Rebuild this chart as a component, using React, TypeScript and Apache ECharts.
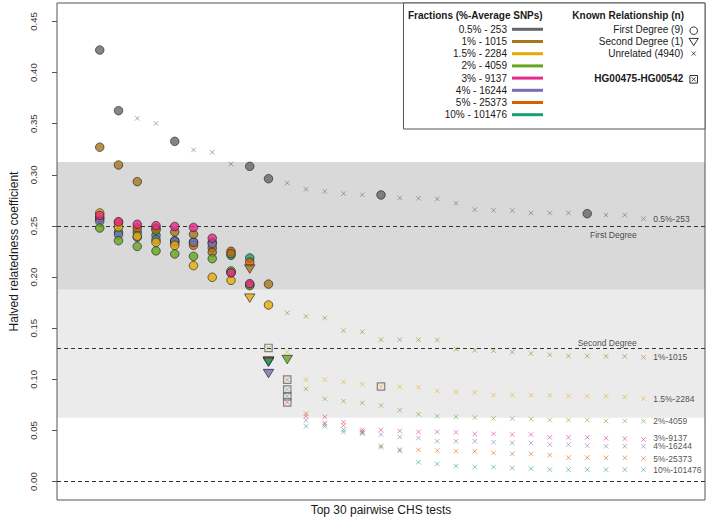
import React, { useEffect, useRef } from "react";
import * as echarts from "echarts";

const FONT = "'Liberation Sans', Arial, Helvetica, sans-serif";

// ---------- data ----------
const ranks = [1, 2, 3, 4, 5, 6, 7, 8, 9, 10, 11, 12, 13, 14, 15, 16, 17, 18, 19, 20, 21, 22, 23, 24, 25, 26, 27, 28, 29, 30];

const fractionNames = ["0.5% - 253", "1% - 1015", "1.5% - 2284", "2% - 4059", "3% - 9137", "4% - 16244", "5% - 25373", "10% - 101476"];
const fractionTags = ["0.5%-253", "1%-1015", "1.5%-2284", "2%-4059", "3%-9137", "4%-16244", "5%-25373", "10%-101476"];
const fractionColors = ["#666666", "#a6761d", "#e6ab02", "#66a61e", "#e7298a", "#7570b3", "#d95f02", "#1b9e77"];

const yTicks = [0, 0.05, 0.1, 0.15, 0.2, 0.25, 0.3, 0.35, 0.4, 0.45];
const degreeLines = [0.25, 0.125, 0];
const degreeNames = ["First Degree", "Second Degree"];
const degreeLevels = [0.25, 0.125];
const firstDegreeBand = [0.1875, 0.3125];
const secondDegreeBand = [0.0625, 0.1875];
const relationshipNames = ["First Degree (9)", "Second Degree (1)", "Unrelated (4940)"];
const highlightedPair = "HG00475-HG00542";

// relation codes per rank: F first degree, S second degree, U unrelated, H = HG00475-HG00542
const frac05 = [0.422, 0.3627, 0.3552, 0.3503, 0.3327, 0.3243, 0.322, 0.3106, 0.3083, 0.2962, 0.292, 0.2858, 0.2838, 0.2817, 0.2805, 0.2803, 0.2774, 0.277, 0.2764, 0.2721, 0.266, 0.2653, 0.265, 0.2627, 0.2627, 0.2627, 0.262, 0.2607, 0.2607, 0.2571];
const rel05 = "FFUUFUUUFFUUUUUFUUUUUUUUUUFUUU";

const frac1 = [0.327, 0.3096, 0.2933, 0.246, 0.2441, 0.2418, 0.2242, 0.223, 0.2078, 0.1931, 0.1649, 0.1615, 0.16, 0.1476, 0.1465, 0.1388, 0.1388, 0.1388, 0.1385, 0.1295, 0.1284, 0.128, 0.1267, 0.1253, 0.124, 0.1229, 0.1229, 0.1225, 0.1225, 0.1215];
const rel1 = "FFFFFFFFSFUUUUUUUUUUUUUUUUUUUU";

const frac15 = [0.2627, 0.249, 0.24, 0.234, 0.231, 0.2112, 0.1998, 0.1968, 0.1794, 0.1727, 0.1268, 0.0997, 0.0997, 0.0975, 0.0953, 0.093, 0.0928, 0.0922, 0.0888, 0.0877, 0.0873, 0.0844, 0.0844, 0.0844, 0.0843, 0.0834, 0.0834, 0.0834, 0.0828, 0.0811];
const rel15 = "FFFFFFFFSFUUUUUHUUUUUUUUUUUUUU";

const frac2 = [0.248, 0.2356, 0.23, 0.2256, 0.2226, 0.2203, 0.218, 0.206, 0.1916, 0.1307, 0.1193, 0.0906, 0.0809, 0.0786, 0.0769, 0.0745, 0.0698, 0.0658, 0.064, 0.0633, 0.0626, 0.0618, 0.0616, 0.0613, 0.0602, 0.0601, 0.0601, 0.0592, 0.0592, 0.059];
const rel2 = "FFFFFFFFFHSUUUUUUUUUUUUUUUUUUU";

const frac3 = [0.2604, 0.2542, 0.2516, 0.2503, 0.2495, 0.2485, 0.238, 0.204, 0.1936, 0.1172, 0.0775, 0.0639, 0.0633, 0.0582, 0.0508, 0.0506, 0.0495, 0.0486, 0.0486, 0.0482, 0.0466, 0.0466, 0.046, 0.046, 0.0433, 0.0433, 0.0433, 0.0424, 0.042, 0.0411];
const rel3 = "FFFFFFFFFSHUUUUUUUUUUUUUUUUUUU";

const frac4 = [0.2545, 0.2415, 0.239, 0.2366, 0.2352, 0.234, 0.2325, 0.2045, 0.1925, 0.1056, 0.09, 0.06, 0.056, 0.0508, 0.048, 0.046, 0.0437, 0.0427, 0.0395, 0.0395, 0.0394, 0.0385, 0.0378, 0.0378, 0.0362, 0.0362, 0.0352, 0.0345, 0.0345, 0.0345];
const rel4 = "FFFFFFFFFSHUUUUUUUUUUUUUUUUUUU";

const frac5 = [0.258, 0.2535, 0.248, 0.2478, 0.2334, 0.231, 0.2285, 0.2252, 0.2145, 0.118, 0.0997, 0.0665, 0.0574, 0.055, 0.049, 0.0335, 0.0313, 0.031, 0.0304, 0.0297, 0.0297, 0.028, 0.0271, 0.0271, 0.0258, 0.0235, 0.0235, 0.0232, 0.0232, 0.0225];
const rel5 = "FFFFFFFFFSHUUUUUUUUUUUUUUUUUUU";

const frac10 = [0.257, 0.244, 0.2438, 0.2408, 0.2356, 0.2343, 0.234, 0.2213, 0.2187, 0.1167, 0.0834, 0.0541, 0.054, 0.0486, 0.047, 0.035, 0.03, 0.0189, 0.0173, 0.0153, 0.0143, 0.0143, 0.0134, 0.0127, 0.0117, 0.0117, 0.0117, 0.0117, 0.0117, 0.0117];
const rel10 = "FFFFFFFFFSHUUUUUUUUUUUUUUUUUUU";

const fractionValues = [frac05, frac1, frac15, frac2, frac3, frac4, frac5, frac10];
const fractionRelations = [rel05, rel1, rel15, rel2, rel3, rel4, rel5, rel10];

// ---------- helpers ----------
const circleOrder = [7, 6, 5, 0, 1, 2, 3, 4];
const tagNudge = [0, 0, 0, 0, -2, 0, 0, 0];

function rgba(hex: string, a: number) {
  const n = parseInt(hex.slice(1), 16);
  return `rgba(${(n >> 16) & 255},${(n >> 8) & 255},${n & 255},${a})`;
}

function points(k: number, codes: string) {
  const vals = fractionValues[k];
  const rel = fractionRelations[k];
  const out: any[] = [];
  ranks.forEach((r, i) => {
    if (codes.indexOf(rel[i]) >= 0) out.push([r, vals[i]]);
  });
  return out;
}

const X_PATH = "path://M0,0L10,10M10,0L0,10";

function buildOption() {
  const series: any[] = [];

  series.push({
    type: "scatter",
    name: "bands",
    data: [],
    silent: true,
    z: 1,
    markArea: {
      silent: true,
      z: 1,
      data: [
        [{ yAxis: firstDegreeBand[0], itemStyle: { color: "#d9d9d9" } }, { yAxis: firstDegreeBand[1] }],
        [{ yAxis: secondDegreeBand[0], itemStyle: { color: "#ebebeb" } }, { yAxis: secondDegreeBand[1] }],
      ],
    },
    markLine: {
      silent: true,
      z: 1.5,
      symbol: ["none", "none"],
      label: { show: false },
      lineStyle: { color: "#333", type: [4, 3], width: 1 },
      data: degreeLines.map((v) => ({ yAxis: v })),
    },
  });

  // unrelated crosses (and the crosses inside the highlighted pair's squares)
  fractionNames.forEach((name, k) => {
    const data = points(k, "UH").map((p) => {
      if (p[0] === ranks[ranks.length - 1]) {
        return {
          value: p,
          label: {
            show: true,
            position: "right",
            distance: 7,
            offset: [0, tagNudge[k]],
            formatter: fractionTags[k],
            fontSize: 8.5,
            fontFamily: FONT,
            color: "#1a1a1a",
          },
        };
      }
      return p;
    });
    series.push({
      type: "scatter",
      name,
      z: 2,
      silent: true,
      symbol: X_PATH,
      symbolSize: 4.5,
      itemStyle: { color: "rgba(0,0,0,0)", borderColor: rgba(fractionColors[k], 0.7), borderWidth: 1 },
      data,
    });
  });

  // first degree circles
  circleOrder.forEach((k) => {
    series.push({
      type: "scatter",
      name: fractionNames[k],
      z: 3,
      silent: true,
      symbol: "circle",
      symbolSize: 8.5,
      itemStyle: { color: fractionColors[k], borderColor: "#1a1a1a", borderWidth: 0.8 },
      data: points(k, "F"),
    });
  });

  // second degree triangles
  fractionNames.forEach((name, k) => {
    series.push({
      type: "scatter",
      name,
      z: 3,
      silent: true,
      symbol: "triangle",
      symbolRotate: 180,
      symbolSize: [10.5, 8.5],
      itemStyle: { color: fractionColors[k], borderColor: "#1a1a1a", borderWidth: 0.8 },
      data: points(k, "S"),
    });
  });

  // highlighted pair squares
  fractionNames.forEach((name, k) => {
    series.push({
      type: "scatter",
      name,
      z: 3,
      silent: true,
      symbol: "rect",
      symbolSize: 7.4,
      itemStyle: { color: "rgba(0,0,0,0)", borderColor: "#666", borderWidth: 1.2 },
      data: points(k, "H"),
    });
  });

  // degree labels
  series.push({
    type: "scatter",
    name: "degree-labels",
    z: 3,
    silent: true,
    symbolSize: 0,
    itemStyle: { color: "rgba(0,0,0,0)" },
    data: degreeNames.map((t, i) => ({
      value: [29.64, degreeLevels[i]],
      label: {
        show: true,
        position: i === 0 ? "bottom" : "top",
        distance: i === 0 ? 5 : 6.5,
        align: "right",
        formatter: t,
        fontSize: 8.5,
        fontFamily: FONT,
        color: "#1a1a1a",
      },
    })),
  });

  const lx = 693.7;
  const graphic: any[] = [
    {
      type: "rect",
      z: 10,
      shape: { x: 403.5, y: 3, width: 301.5, height: 126 },
      style: { fill: "#fff", stroke: "#555", lineWidth: 1 },
      silent: true,
    },
    {
      type: "text",
      z: 11,
      x: 408,
      y: 15.7,
      style: { text: "Fractions (%-Average SNPs)", font: `bold 10px ${FONT}`, fill: "#1a1a1a", textAlign: "left", textVerticalAlign: "middle" },
    },
    {
      type: "text",
      z: 11,
      x: 684,
      y: 15.7,
      style: { text: "Known Relationship (n)", font: `bold 10px ${FONT}`, fill: "#1a1a1a", textAlign: "right", textVerticalAlign: "middle" },
    },
    ...relationshipNames.map((t, i) => ({
      type: "text",
      z: 11,
      x: 683.3,
      y: 29.3 + i * 12.2,
      style: { text: t, font: `10px ${FONT}`, fill: "#1a1a1a", textAlign: "right", textVerticalAlign: "middle" },
    })),
    {
      type: "text",
      z: 11,
      x: 683.3,
      y: 78.5,
      style: { text: highlightedPair, font: `bold 10px ${FONT}`, fill: "#1a1a1a", textAlign: "right", textVerticalAlign: "middle" },
    },
    { type: "circle", z: 11, shape: { cx: lx, cy: 30.7, r: 3.8 }, style: { fill: "none", stroke: "#1a1a1a", lineWidth: 0.9 } },
    {
      type: "polygon",
      z: 11,
      shape: { points: [[lx - 4.6, 38.4], [lx + 4.6, 38.4], [lx, 45.6]] },
      style: { fill: "none", stroke: "#1a1a1a", lineWidth: 0.9 },
    },
    { type: "line", z: 11, shape: { x1: lx - 2, y1: 51.5, x2: lx + 2, y2: 55.5 }, style: { stroke: "#1a1a1a", lineWidth: 0.8 } },
    { type: "line", z: 11, shape: { x1: lx + 2, y1: 51.5, x2: lx - 2, y2: 55.5 }, style: { stroke: "#1a1a1a", lineWidth: 0.8 } },
    { type: "rect", z: 11, shape: { x: lx - 3.8, y: 75.5, width: 7.6, height: 7.6 }, style: { fill: "none", stroke: "#1a1a1a", lineWidth: 0.9 } },
    { type: "line", z: 11, shape: { x1: lx - 2, y1: 77.3, x2: lx + 2, y2: 81.3 }, style: { stroke: "#1a1a1a", lineWidth: 0.8 } },
    { type: "line", z: 11, shape: { x1: lx + 2, y1: 77.3, x2: lx - 2, y2: 81.3 }, style: { stroke: "#1a1a1a", lineWidth: 0.8 } },
  ];

  return {
    animation: false,
    backgroundColor: "#ffffff",
    textStyle: { fontFamily: FONT },
    grid: {
      left: 51,
      right: 3,
      top: 3,
      bottom: 22,
      show: true,
      z: 1.2,
      borderColor: "#555",
      borderWidth: 1,
      backgroundColor: "rgba(0,0,0,0)",
    },
    xAxis: {
      type: "value",
      min: -1.28,
      max: 33.28,
      axisLine: { show: false, onZero: false },
      axisTick: { show: false },
      axisLabel: { show: false },
      splitLine: { show: false },
      name: "Top 30 pairwise CHS tests",
      nameLocation: "middle",
      nameGap: 4,
      nameTextStyle: { fontSize: 12, color: "#1a1a1a", fontFamily: FONT },
    },
    yAxis: {
      type: "value",
      min: -0.018,
      max: 0.468,
      axisLine: { show: false, onZero: false },
      axisTick: { show: true, length: 5, customValues: yTicks, lineStyle: { color: "#555" } },
      axisLabel: {
        customValues: yTicks,
        rotate: 90,
        margin: 19,
        fontSize: 9.6,
        color: "#333",
        fontFamily: FONT,
        formatter: (v: number) => v.toFixed(2),
      },
      splitLine: { show: false },
      name: "Halved relatedness coefficient",
      nameLocation: "middle",
      nameRotate: 90,
      nameGap: 37,
      nameTextStyle: { fontSize: 12, color: "#1a1a1a", fontFamily: FONT },
    },
    legend: {
      orient: "vertical",
      right: 165,
      top: 23.2,
      padding: 0,
      itemGap: 0,
      itemWidth: 31,
      itemHeight: 3,
      align: "right",
      selectedMode: false,
      z: 12,
      textStyle: { fontSize: 10, color: "#1a1a1a", fontFamily: FONT, lineHeight: 12.2 },
      data: fractionNames.map((n, k) => ({
        name: n,
        icon: "rect",
        itemStyle: { color: fractionColors[k], borderWidth: 0, opacity: 1 },
      })),
    },
    graphic,
    series,
  };
}

export default function App() {
  const ref = useRef<HTMLDivElement>(null);
  useEffect(() => {
    if (!ref.current) return;
    const chart = echarts.init(ref.current, null, { renderer: "svg" });
    chart.setOption(buildOption() as any);
    return () => chart.dispose();
  }, []);
  return <div ref={ref} style={{ position: "fixed", left: 0, top: 0, width: 708, height: 522 }} />;
}
